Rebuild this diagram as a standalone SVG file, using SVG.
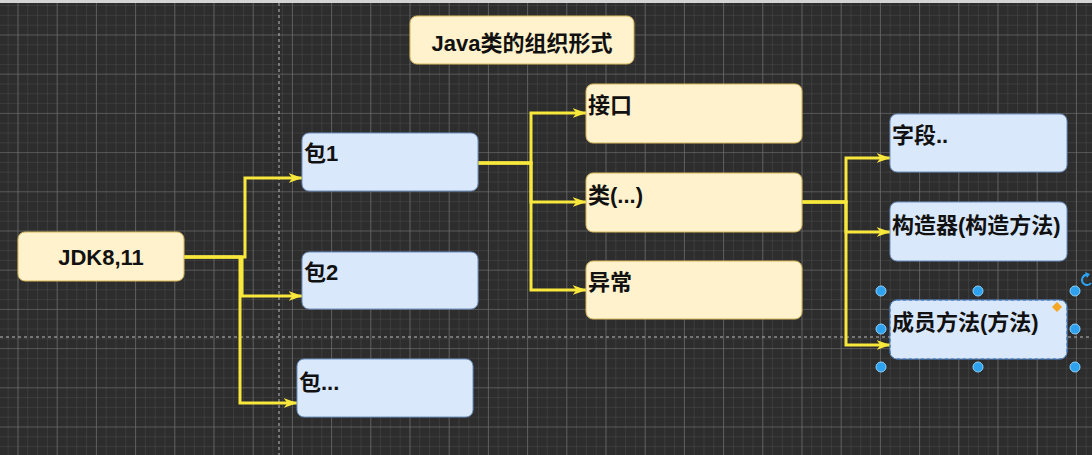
<svg xmlns="http://www.w3.org/2000/svg" width="1092" height="455" viewBox="0 0 1092 455">
<defs>
<pattern id="minor" patternUnits="userSpaceOnUse" x="17.5" y="34.5" width="9.8" height="9.8">
<path d="M0,0 H9.8 M0,0 V9.8" stroke="#4a4a4a" stroke-width="1" fill="none"/>
</pattern>
<pattern id="major" patternUnits="userSpaceOnUse" x="17.5" y="34.5" width="39.2" height="39.2">
<path d="M0,0 H39.2 M0,0 V39.2" stroke="#727272" stroke-width="1.2" fill="none"/>
</pattern>
<marker id="arr" viewBox="0 0 14 10" markerWidth="14" markerHeight="10" refX="13.5" refY="5" orient="auto" markerUnits="userSpaceOnUse">
<path d="M0,0 L14,5 L0,10 L4,5 z" fill="#f8e83c"/>
</marker>
<style>
.y{fill:#fff2cc;stroke:#d6b656;stroke-width:1}
.b{fill:#dae8fc;stroke:#6c8ebf;stroke-width:1}
.t{font-family:"Liberation Sans","Noto Sans CJK SC",sans-serif;font-weight:bold;font-size:22px;fill:#111}
.c{stroke:#f8e83c;stroke-width:3;fill:none;marker-end:url(#arr)}
.h{fill:#2ea2ee;stroke:#8fd0f8;stroke-width:1}
</style>
</defs>
<rect width="1092" height="455" fill="#2d2d2d"/>
<rect width="1092" height="455" fill="url(#minor)"/>
<rect width="1092" height="455" fill="url(#major)"/>
<rect width="1092" height="3" fill="#d4d4d4"/>
<path d="M279,3 V455 M0,337 H1092" stroke="#bdbdbd" stroke-width="1" stroke-dasharray="3 3" fill="none"/>
<g id="connectors">
<path class="c" d="M184,257 H245 V178 H302"/>
<path class="c" d="M184,257 H242 V296 H302"/>
<path class="c" d="M184,257 H240 V403 H297"/>
<path class="c" d="M478,163 H531 V113 H586"/>
<path class="c" d="M478,163 H531 V202 H586"/>
<path class="c" d="M478,163 H531 V290 H586"/>
<path class="c" d="M802,202 H846 V158 H890"/>
<path class="c" d="M802,202 H846 V232 H890"/>
<path class="c" d="M802,202 H846 V345 H890"/>
</g>
<g id="title"><rect class="y" x="410" y="16" width="224" height="48" rx="7"/><text class="t" x="522" y="51" text-anchor="middle">Java类的组织形式</text></g>
<g id="jdk"><rect class="y" x="18" y="232" width="166" height="49" rx="7"/><text class="t" x="101" y="265" text-anchor="middle">JDK8,11</text></g>
<g id="pkg1"><rect class="b" x="302" y="133" width="176" height="58" rx="7"/><text class="t" x="304" y="161">包1</text></g>
<g id="pkg2"><rect class="b" x="302" y="252" width="176" height="57" rx="7"/><text class="t" x="304" y="280">包2</text></g>
<g id="pkgN"><rect class="b" x="297" y="359" width="176" height="58" rx="7"/><text class="t" x="299" y="390">包...</text></g>
<g id="iface"><rect class="y" x="586" y="84" width="216" height="59" rx="7"/><text class="t" x="588" y="113">接口</text></g>
<g id="cls"><rect class="y" x="586" y="173" width="216" height="59" rx="7"/><text class="t" x="588" y="203">类(...)</text></g>
<g id="exc"><rect class="y" x="586" y="261" width="216" height="58" rx="7"/><text class="t" x="588" y="290">异常</text></g>
<g id="field"><rect class="b" x="890" y="114" width="177" height="58" rx="7"/><text class="t" x="892" y="143">字段..</text></g>
<g id="ctor"><rect class="b" x="890" y="202" width="177" height="59" rx="7"/><text class="t" x="892" y="233">构造器(构造方法)</text></g>
<g id="method"><rect class="b" x="890" y="300" width="177" height="59" rx="7"/><rect x="890" y="300" width="177" height="59" rx="7" fill="none" stroke="#2a6fb8" stroke-width="1" stroke-dasharray="3 3"/><text class="t" x="892" y="330">成员方法(方法)</text>
<path d="M1057,302 L1062,307 L1057,312 L1052,307 z" fill="#f5a623"/>
<circle class="h" cx="881" cy="291" r="5"/><circle class="h" cx="978" cy="291" r="5"/><circle class="h" cx="1075" cy="291" r="5"/>
<circle class="h" cx="881" cy="329" r="5"/><circle class="h" cx="1075" cy="329" r="5"/>
<circle class="h" cx="881" cy="367" r="5"/><circle class="h" cx="978" cy="367" r="5"/><circle class="h" cx="1075" cy="367" r="5"/>
<path d="M1091,283 A5,5 0 1 1 1088,275" fill="none" stroke="#2ea2ee" stroke-width="2"/>
<path d="M1085,272 L1090,274 L1087,278 z" fill="#2ea2ee"/>
</g>
</svg>
